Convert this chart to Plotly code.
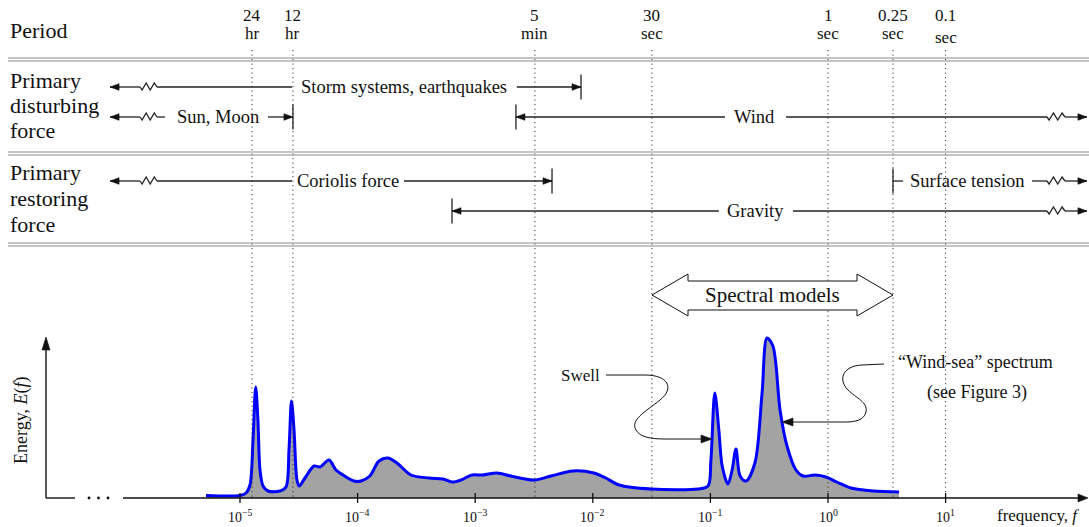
import math
import plotly.graph_objects as go

# ---------------- data ----------------
spec_freq = [5.14e-6, 1.0e-5, 1.125e-5, 1.216e-5, 1.29e-5, 1.36e-5, 1.42e-5, 1.48e-5, 1.57e-5, 1.73e-5,
             2.19e-5, 2.46e-5, 2.61e-5, 2.74e-5, 2.88e-5, 3.05e-5, 3.18e-5, 3.57e-5, 4.26e-5, 4.79e-5,
             5.71e-5, 6.55e-5, 7.51e-5, 9.31e-5, 1.07e-4, 1.27e-4, 1.52e-4, 1.81e-4, 2.16e-4, 2.84e-4,
             4.05e-4, 5.32e-4, 6.35e-4, 7.57e-4, 9.39e-4, 1.16e-3, 1.53e-3, 2.01e-3, 3.16e-3, 4.41e-3,
             6.79e-3, 1.02e-2, 1.29e-2, 1.67e-2, 3.13e-2, 7.85e-2, 9.55e-2, 0.101, 0.109, 0.118,
             0.126, 0.141, 0.153, 0.165, 0.179, 0.201, 0.239, 0.275, 0.303, 0.340,
             0.391, 0.448, 0.534, 0.613, 0.776, 0.962, 1.19, 1.57, 2.42, 4.02]
spec_energy = [2.5, 2.5, 5, 13, 58, 111, 78, 28, 12, 7,
               7, 11, 48, 97, 68, 18, 12, 20, 32, 31,
               38, 28, 23, 17, 17, 22, 37, 40, 35, 23,
               20, 19, 16, 18, 23, 23, 25, 22, 18, 22,
               27, 25, 20, 13, 9, 9, 12, 38, 105, 68,
               32, 14, 28, 49, 22, 17, 35, 105, 160, 152,
               88, 52, 28, 22, 23, 21, 16, 10, 7, 6]

period_value = ["24", "12", "5", "30", "1", "0.25", "0.1"]
period_unit = ["hr", "hr", "min", "sec", "sec", "sec", "sec"]
period_freq = [1.265e-5, 2.82e-5, 3.22e-3, 3.18e-2, 1.0, 3.57, 10.0]

tick_exponents = [-5, -4, -3, -2, -1, 0, 1]

row_titles = [["Primary", "disturbing", "force"], ["Primary", "restoring", "force"]]
force_names = ["Storm systems, earthquakes", "Sun, Moon", "Wind",
               "Coriolis force", "Surface tension", "Gravity"]
force_f_low = [None, None, 2.22e-3, None, 3.57, 6.35e-4]      # None = extends beyond the low end
force_f_high = [7.94e-3, 2.82e-5, None, 4.50e-3, None, None]  # None = extends beyond the high end
force_label_f = [2.48e-4, 6.5e-6, 0.239, 8.28e-5, 15.5, 0.244]
force_gap_f = [(2.77e-5, 2.26e-3), (2.30e-6, 1.73e-5), (0.133, 0.44),
               (2.77e-5, 2.48e-4), (4.35, 54.3), (0.118, 0.504)]
force_row = [0, 1, 1, 2, 2, 3]

# ---------------- layout geometry ----------------
W, H = 1089, 527
XMIN, XMAX = -7.0408, 2.2194
DEC = W / (XMAX - XMIN)          # pixels per decade
ROW_Y = [87, 117, 181, 211]
LEFT_TIP, RIGHT_TIP = -6.105, 2.202
LEFT_ZZ, RIGHT_ZZ = (-5.850, -5.706), (1.862, 2.015)
FONT = "Liberation Serif, Times New Roman, DejaVu Serif, serif"
INK = "#111111"


def lpx(p):
    return p / DEC


def F(l):
    return 10 ** l


fig = go.Figure()

# ---- double separator lines ----
sx, sy = [], []
for yy in (58, 61, 152, 155, 243, 246):
    sx += [8, W, None]
    sy += [yy, yy, None]
fig.add_trace(go.Scatter(x=sx, y=sy, xaxis="x2", yaxis="y2", mode="lines",
                         line=dict(color="#8a8a8a", width=1.2), hoverinfo="skip"))

# ---- dotted period lines ----
dx, dy = [], []
for f in period_freq:
    dx += [f, f, None]
    dy += [50, 498, None]
fig.add_trace(go.Scatter(x=dx, y=dy, xaxis="x", yaxis="y2", mode="lines",
                         line=dict(color="#333333", width=1, dash="1.2px,3.3px"), hoverinfo="skip"))

# ---- spectrum ----
fig.add_trace(go.Scatter(x=spec_freq, y=spec_energy, xaxis="x", yaxis="y", mode="lines",
                         line=dict(color="#0000ff", width=3, shape="spline", smoothing=0.9),
                         fill="tozeroy", fillcolor="#a3a3a3", hoverinfo="skip"))

# ---- force range arrows ----
def pieces(a, b, cuts):
    out, cur = [], a
    for c0, c1 in sorted(cuts):
        if c1 <= cur or c0 >= b:
            continue
        if c0 > cur:
            out.append((cur, c0))
        cur = max(cur, c1)
    if cur < b:
        out.append((cur, b))
    return out


lx, ly, hx, hy = [], [], [], []
zz_frac = [0, 0.12, 0.36, 0.6, 0.84, 1.0]
zz_off = [0, 3, -4, 3, -4, 0]
HEAD_L, HEAD_W = 9, 3.3
annots = []
for i, name in enumerate(force_names):
    y = ROW_Y[force_row[i]]
    a = math.log10(force_f_low[i]) if force_f_low[i] else LEFT_TIP
    b = math.log10(force_f_high[i]) if force_f_high[i] else RIGHT_TIP
    g0, g1 = (math.log10(v) for v in force_gap_f[i])
    cuts = [(g0, g1)]
    zzs = []
    if force_f_low[i] is None:
        cuts.append(LEFT_ZZ)
        zzs.append(LEFT_ZZ)
    if force_f_high[i] is None:
        cuts.append(RIGHT_ZZ)
        zzs.append(RIGHT_ZZ)
    for p0, p1 in pieces(a, b, cuts):
        lx += [F(p0), F(p1), None]
        ly += [y, y, None]
    for z0, z1 in zzs:
        for fr, off in zip(zz_frac, zz_off):
            lx.append(F(z0 + fr * (z1 - z0)))
            ly.append(y + off)
        lx.append(None)
        ly.append(None)
    for end, closed, sgn in ((a, force_f_low[i] is not None, -1), (b, force_f_high[i] is not None, 1)):
        if closed:
            lx += [F(end), F(end), None]
            ly += [y - 12.5, y + 12.5, None]
        near_gap = min(abs(end - g0), abs(end - g1))
        if near_gap * DEC > 15:
            base = end - sgn * lpx(HEAD_L)
            hx += [F(end), F(base), F(base), F(end), None]
            hy += [y, y - HEAD_W, y + HEAD_W, y, None]
    annots.append(dict(x=math.log10(force_label_f[i]), y=y, xref="x", yref="y2", text=name,
                       showarrow=False, xanchor="center", yanchor="middle",
                       font=dict(family=FONT, size=18.5, color=INK)))

fig.add_trace(go.Scatter(x=lx, y=ly, xaxis="x", yaxis="y2", mode="lines",
                         line=dict(color="#222222", width=1.3), hoverinfo="skip"))
fig.add_trace(go.Scatter(x=hx, y=hy, xaxis="x", yaxis="y2", mode="lines", fill="toself",
                         fillcolor="#111111", line=dict(color="#111111", width=0.6), hoverinfo="skip"))

# ---- energy / frequency axes ----
ax_x = [46, 46, None, 46, 75, None, 123, 1080]
ax_y = [498, 346, None, 498, 498, None, 498, 498]
fig.add_trace(go.Scatter(x=ax_x, y=ax_y, xaxis="x2", yaxis="y2", mode="lines",
                         line=dict(color="#111111", width=1.4), hoverinfo="skip"))
fig.add_trace(go.Scatter(x=[46, 42, 50, 46, None, 1088, 1078, 1078, 1088],
                         y=[337, 350, 350, 337, None, 498, 494, 502, 498],
                         xaxis="x2", yaxis="y2", mode="lines", fill="toself", fillcolor="#111111",
                         line=dict(color="#111111", width=0.6), hoverinfo="skip"))
fig.add_trace(go.Scatter(x=[89, 98.5, 108], y=[498, 498, 498], xaxis="x2", yaxis="y2", mode="markers",
                         marker=dict(size=2.8, color="#111111"), hoverinfo="skip"))
tx, ty = [], []
for e in tick_exponents:
    tx += [10 ** e, 10 ** e, None]
    ty += [493, 503, None]
fig.add_trace(go.Scatter(x=tx, y=ty, xaxis="x", yaxis="y2", mode="lines",
                         line=dict(color="#111111", width=1.3), hoverinfo="skip"))
for e in tick_exponents:
    annots.append(dict(x=e, y=516, xref="x", yref="y2",
                       text="10<sup>\u2212%d</sup>" % -e if e < 0 else "10<sup>%d</sup>" % e,
                       showarrow=False, xanchor="center", yanchor="middle",
                       font=dict(family=FONT, size=14, color=INK)))

# ---- period labels ----
for v, u, f in zip(period_value, period_unit, period_freq):
    annots.append(dict(x=math.log10(f), y=15, xref="x", yref="y2", text=v, showarrow=False,
                       xanchor="center", yanchor="middle", font=dict(family=FONT, size=17, color=INK)))
    annots.append(dict(x=math.log10(f), y=37 if v == "0.1" else 33, xref="x", yref="y2", text=u,
                       showarrow=False, xanchor="center", yanchor="middle",
                       font=dict(family=FONT, size=17, color=INK)))

# ---- row titles ----
annots.append(dict(x=8, y=30, xref="x2", yref="y2", text="Period", showarrow=False,
                   xanchor="left", yanchor="middle", font=dict(family=FONT, size=22, color=INK)))
for lines, ys in zip(row_titles, ([80, 105, 130], [172, 198, 224])):
    for t, yy in zip(lines, ys):
        annots.append(dict(x=8, y=yy, xref="x2", yref="y2", text=t, showarrow=False,
                           xanchor="left", yanchor="middle", font=dict(family=FONT, size=22, color=INK)))

# ---- axis titles ----
annots.append(dict(x=21, y=420, xref="x2", yref="y2", text="Energy, <i>E</i>(<i>f</i>)", textangle=-90,
                   showarrow=False, xanchor="center", yanchor="middle",
                   font=dict(family=FONT, size=18, color=INK)))
annots.append(dict(x=1081, y=515, xref="x2", yref="y2", text="frequency, <i>f</i>", showarrow=False,
                   xanchor="right", yanchor="middle", font=dict(family=FONT, size=17, color=INK)))

# ---- spectral models double arrow ----
shapes = [dict(type="path", xref="x2", yref="y2",
               path="M652,295 L688,274 L688,281 L857,281 L857,274 L893,295 L857,316 L857,310 L688,310 L688,316 Z",
               line=dict(color="#111111", width=1), fillcolor="white")]
annots.append(dict(x=772.5, y=295, xref="x2", yref="y2", text="Spectral models", showarrow=False,
                   xanchor="center", yanchor="middle", font=dict(family=FONT, size=21, color=INK)))

# ---- callouts ----
shapes.append(dict(type="path", xref="x2", yref="y2",
                   path="M606,375 L645,375 C668,375 675,388 660,400 C645,412 630,420 636,430 C640,437 650,439 665,439 L703,439",
                   line=dict(color="#111111", width=1)))
shapes.append(dict(type="path", xref="x2", yref="y2", path="M712,439 L701,435 L701,443 Z",
                   line=dict(color="#111111", width=0.6), fillcolor="#111111"))
shapes.append(dict(type="path", xref="x2", yref="y2",
                   path="M884,364 L862,365 C842,366 838,380 848,390 C856,398 868,402 866,412 C864,420 856,422 845,422 L792,422",
                   line=dict(color="#111111", width=1)))
shapes.append(dict(type="path", xref="x2", yref="y2", path="M782,422 L793,418 L793,426 Z",
                   line=dict(color="#111111", width=0.6), fillcolor="#111111"))
annots.append(dict(x=580, y=375, xref="x2", yref="y2", text="Swell", showarrow=False,
                   xanchor="center", yanchor="middle", font=dict(family=FONT, size=17, color=INK)))
annots.append(dict(x=975, y=362, xref="x2", yref="y2", text="\u201cWind-sea\u201d spectrum", showarrow=False,
                   xanchor="center", yanchor="middle", font=dict(family=FONT, size=18, color=INK)))
annots.append(dict(x=977, y=392, xref="x2", yref="y2", text="(see Figure 3)", showarrow=False,
                   xanchor="center", yanchor="middle", font=dict(family=FONT, size=18, color=INK)))

fig.update_layout(
    width=W, height=H, margin=dict(l=0, r=0, t=0, b=0),
    paper_bgcolor="white", plot_bgcolor="white", showlegend=False,
    xaxis=dict(type="log", range=[XMIN, XMAX], visible=False, domain=[0, 1]),
    yaxis=dict(range=[-29, 498], visible=False, domain=[0, 1]),
    xaxis2=dict(overlaying="x", range=[0, W], visible=False),
    yaxis2=dict(overlaying="y", range=[H, 0], visible=False),
    annotations=annots, shapes=shapes,
)
fig.write_html("out.html", config={"displayModeBar": False, "staticPlot": True},
               post_script="document.body.style.margin='0px';document.body.style.padding='0px';"
                           "document.body.style.overflow='hidden';")
